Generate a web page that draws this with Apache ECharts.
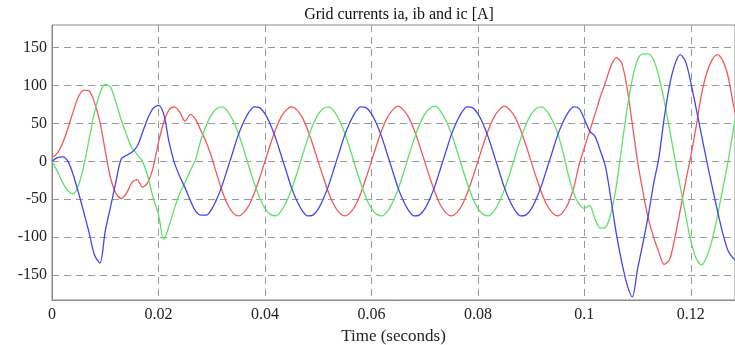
<!DOCTYPE html>
<html>
<head>
<meta charset="utf-8">
<script src="https://cdn.jsdelivr.net/npm/echarts@6/dist/echarts.min.js"></script>
<style>
  html, body { margin: 0; padding: 0; background: #fff; }
  #chart { width: 735px; height: 345px; }
</style>
</head>
<body>
<div id="chart"></div>
<script>
// samples every 1 ms, starting at t = 0
const timeStep = 0.001;

const ia = [
  5, 11, 24, 44, 66, 86, 94, 93, 77, 52,
  14, -22, -42, -49, -42, -28, -24, -34, -28, -8,
  25, 52, 68, 72, 65, 53, 62, 55, 40, 25,
  5, -18, -40, -57, -68, -72, -68, -58, -42, -22,
  0, 22, 42, 58, 68, 72, 68, 58, 42, 22,
  0, -22, -42, -58, -68, -72, -68, -58, -42, -22,
  0, 22, 42, 58, 68, 73, 68, 58, 42, 22,
  0, -22, -42, -58, -68, -72, -68, -58, -42, -22,
  0, 22, 42, 58, 68, 73, 68, 58, 42, 22,
  0, -22, -42, -58, -68, -72, -67, -55, -35, -5,
  18, 40, 62, 85, 105, 126, 137, 130, 98, 50,
  0, -40, -75, -100, -120, -136, -130, -101, -65, -28,
  7, 46, 88, 117, 134, 141, 133, 112, 75, 45
];

const ib = [
  0, -13, -28, -39, -43, -31, -5, 30, 65, 90,
  102, 98, 78, 55, 35, 18, 9, 0, -20, -48,
  -70, -103, -85, -62, -42, -28, -12, 3, 29, 48,
  62, 70, 72, 66, 54, 37, 16, -7, -29, -48,
  -62, -70, -72, -66, -54, -37, -16, 7, 29, 48,
  62, 70, 72, 66, 54, 37, 16, -7, -29, -48,
  -62, -70, -72, -66, -54, -37, -16, 7, 29, 48,
  62, 70, 73, 66, 54, 37, 16, -7, -29, -48,
  -62, -70, -72, -66, -54, -37, -16, 7, 29, 48,
  62, 70, 72, 66, 54, 37, 12, -18, -42, -56,
  -62, -58, -76, -88, -87, -68, -33, 18, 68, 108,
  134, 142, 142, 134, 112, 80, 43, 4, -33, -70,
  -105, -128, -137, -126, -104, -72, -36, 0, 42, 75
];

const ic = [
  0, 5, 6, 0, -18, -42, -68, -95, -124, -134,
  -92, -60, -27, 3, 8, 12, 20, 38, 57, 70,
  74, 62, 25, -2, -20, -35, -52, -66, -71, -71,
  -63, -49, -31, -9, 13, 35, 52, 65, 72, 71,
  63, 49, 31, 9, -13, -35, -52, -65, -72, -71,
  -63, -49, -31, -9, 13, 35, 52, 65, 72, 71,
  63, 49, 31, 9, -13, -35, -52, -65, -72, -71,
  -63, -49, -31, -9, 13, 35, 52, 65, 72, 71,
  63, 49, 31, 9, -13, -35, -52, -65, -72, -71,
  -63, -49, -31, -9, 13, 35, 52, 65, 72, 70,
  56, 40, 33, 14, -8, -50, -95, -132, -162, -179,
  -142, -108, -72, -30, 5, 57, 100, 128, 141, 132,
  104, 70, 35, 0, -33, -65, -95, -118, -128, -133
];

const yTicks = [-150, -100, -50, 0, 50, 100, 150];

const toPairs = (values) => values.map((v, i) => [i * timeStep, v]);

const chart = echarts.init(document.getElementById('chart'), null, { renderer: 'canvas' });

const serif = 'Liberation Serif';
const gridLine = { show: true, lineStyle: { color: '#9a9a9a', type: [7, 5], width: 1 } };

const makeSeries = (name, values, color) => ({
  name,
  type: 'line',
  data: toPairs(values),
  showSymbol: false,
  smooth: 0.3,
  lineStyle: { color, width: 1.3 },
  itemStyle: { color }
});

chart.setOption({
  animation: false,
  backgroundColor: '#fff',
  title: {
    text: 'Grid currents ia, ib and ic [A]',
    left: 394,
    textAlign: 'center',
    top: 2,
    textStyle: { fontFamily: serif, fontSize: 16, fontWeight: 'normal', color: '#111' }
  },
  grid: {
    left: 52,
    right: 0,
    top: 25,
    bottom: 45,
    outerBoundsMode: 'none',
    show: true,
    borderColor: '#8a8a8a',
    borderWidth: 1
  },
  xAxis: {
    type: 'value',
    min: 0,
    max: 0.1283,
    interval: 0.02,
    name: 'Time (seconds)',
    nameLocation: 'middle',
    nameGap: 28,
    nameTextStyle: { fontFamily: serif, fontSize: 17, color: '#222' },
    axisLine: { show: true, onZero: false, lineStyle: { color: '#8a8a8a' } },
    axisTick: { show: false },
    axisLabel: { fontFamily: serif, fontSize: 16, color: '#222', margin: 7, showMaxLabel: false },
    splitLine: gridLine
  },
  yAxis: {
    type: 'value',
    min: -183,
    max: 180,
    axisLine: { show: true, onZero: false, lineStyle: { color: '#8a8a8a' } },
    axisTick: { show: false, customValues: yTicks },
    axisLabel: { fontFamily: serif, fontSize: 16, color: '#222', margin: 5, customValues: yTicks },
    splitLine: gridLine
  },
  series: [
    makeSeries('ia', ia, '#f05a5a'),
    makeSeries('ib', ib, '#5ee06a'),
    makeSeries('ic', ic, '#4646e6')
  ]
});
</script>
</body>
</html>
